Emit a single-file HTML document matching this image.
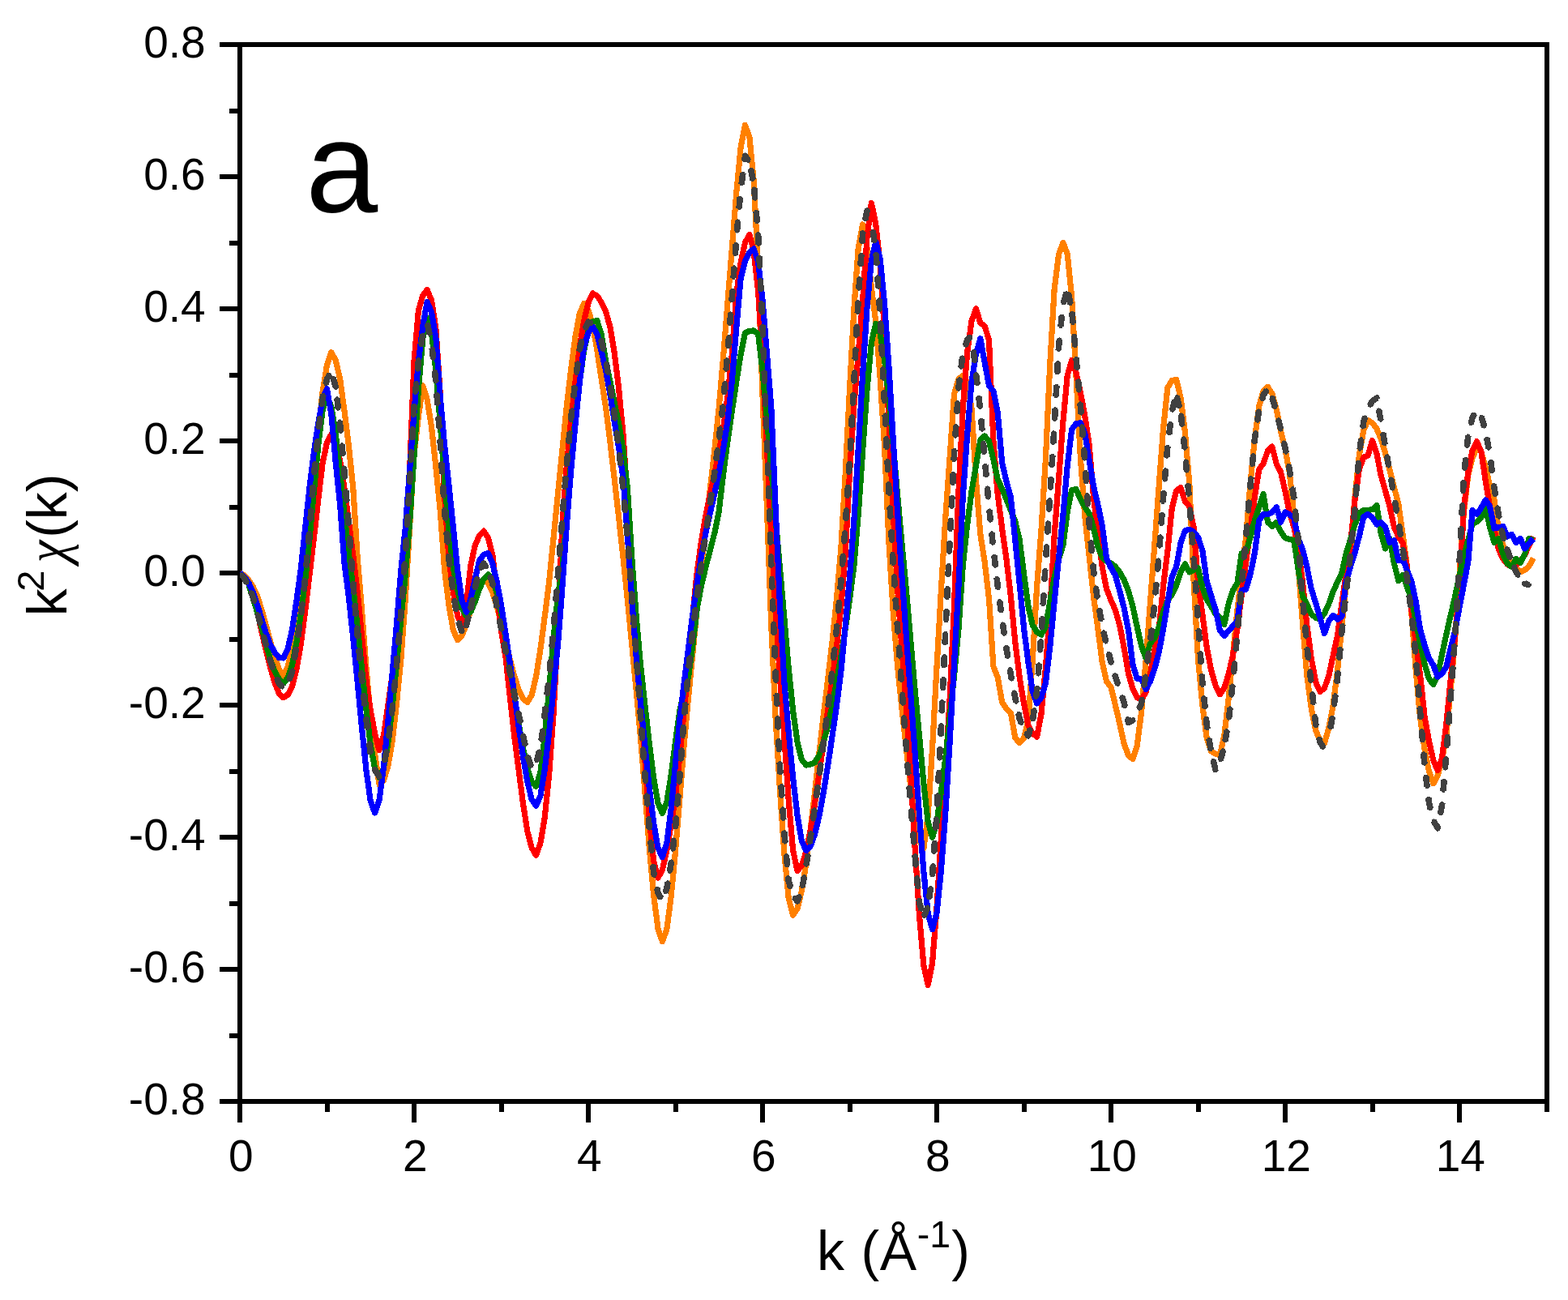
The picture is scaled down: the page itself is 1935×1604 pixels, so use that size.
<!DOCTYPE html>
<html lang="en">
<head>
<meta charset="utf-8">
<title>EXAFS k2-weighted chi(k)</title>
<style>
html,body{margin:0;padding:0;background:#fff;}
body{width:1935px;height:1604px;overflow:hidden;}
svg{display:block;}
text{font-family:"Liberation Sans",sans-serif;fill:#000;}
.tick{font-size:55px;}
.ttl{font-size:68px;}
.c{fill:none;stroke-linejoin:round;}
</style>
</head>
<body>
<svg width="1935" height="1604" viewBox="0 0 1935 1604" role="img" aria-label="k2-weighted EXAFS chi(k) spectra, panel a">
<rect x="0" y="0" width="1935" height="1604" fill="#fff"/>
<g id="axes" stroke="#000" stroke-width="6" fill="none" stroke-linecap="butt" shape-rendering="crispEdges">
<rect x="296.0" y="55.0" width="1612.5" height="1304.0"/>
<line x1="296.0" y1="1359.0" x2="296.0" y2="1385"/>
<line x1="403.5" y1="1359.0" x2="403.5" y2="1372"/>
<line x1="511.0" y1="1359.0" x2="511.0" y2="1385"/>
<line x1="618.5" y1="1359.0" x2="618.5" y2="1372"/>
<line x1="726.0" y1="1359.0" x2="726.0" y2="1385"/>
<line x1="833.5" y1="1359.0" x2="833.5" y2="1372"/>
<line x1="941.0" y1="1359.0" x2="941.0" y2="1385"/>
<line x1="1048.5" y1="1359.0" x2="1048.5" y2="1372"/>
<line x1="1156.0" y1="1359.0" x2="1156.0" y2="1385"/>
<line x1="1263.5" y1="1359.0" x2="1263.5" y2="1372"/>
<line x1="1371.0" y1="1359.0" x2="1371.0" y2="1385"/>
<line x1="1478.5" y1="1359.0" x2="1478.5" y2="1372"/>
<line x1="1586.0" y1="1359.0" x2="1586.0" y2="1385"/>
<line x1="1693.5" y1="1359.0" x2="1693.5" y2="1372"/>
<line x1="1801.0" y1="1359.0" x2="1801.0" y2="1385"/>
<line x1="1908.5" y1="1359.0" x2="1908.5" y2="1372"/>
<line x1="271" y1="1359.0" x2="296.0" y2="1359.0"/>
<line x1="283" y1="1277.5" x2="296.0" y2="1277.5"/>
<line x1="271" y1="1196.0" x2="296.0" y2="1196.0"/>
<line x1="283" y1="1114.5" x2="296.0" y2="1114.5"/>
<line x1="271" y1="1033.0" x2="296.0" y2="1033.0"/>
<line x1="283" y1="951.5" x2="296.0" y2="951.5"/>
<line x1="271" y1="870.0" x2="296.0" y2="870.0"/>
<line x1="283" y1="788.5" x2="296.0" y2="788.5"/>
<line x1="271" y1="707.0" x2="296.0" y2="707.0"/>
<line x1="283" y1="625.5" x2="296.0" y2="625.5"/>
<line x1="271" y1="544.0" x2="296.0" y2="544.0"/>
<line x1="283" y1="462.5" x2="296.0" y2="462.5"/>
<line x1="271" y1="381.0" x2="296.0" y2="381.0"/>
<line x1="283" y1="299.5" x2="296.0" y2="299.5"/>
<line x1="271" y1="218.0" x2="296.0" y2="218.0"/>
<line x1="283" y1="136.5" x2="296.0" y2="136.5"/>
<line x1="271" y1="55.0" x2="296.0" y2="55.0"/>
</g>
<defs><clipPath id="plotclip"><rect x="296" y="55" width="1612.5" height="1304"/></clipPath></defs>
<g id="curves" clip-path="url(#plotclip)" shape-rendering="crispEdges">
<path id="c-orange" class="c" d="M296.0 707.0L301.4 710.0L306.8 715.7L312.1 723.5L317.5 735.4L322.9 752.4L328.2 771.1L333.6 791.5L339.0 810.2L344.4 825.9L349.8 834.6L355.1 822.5L360.5 801.6L365.9 774.9L371.2 749.5L376.6 719.7L382.0 673.9L387.4 603.5L392.8 531.8L398.1 483.7L403.5 450.3L408.9 434.7L414.2 444.6L419.6 467.3L425.0 507.1L430.4 549.9L435.8 602.9L441.1 687.1L446.5 752.4L451.9 823.1L457.2 882.8L462.6 930.5L468.0 967.7L473.4 963.0L478.8 945.5L484.1 914.9L489.5 867.7L494.9 812.6L500.2 740.2L505.6 650.3L511.0 561.0L516.4 513.9L521.8 475.9L527.1 492.7L532.5 526.6L537.9 576.3L543.2 629.3L548.6 703.1L554.0 747.1L559.4 778.0L564.8 789.7L570.1 784.2L575.5 770.3L580.9 752.4L586.2 734.4L591.6 720.5L597.0 715.0L602.4 719.2L607.8 730.8L613.1 747.7L618.5 768.3L623.9 790.8L629.2 813.2L634.6 833.8L640.0 850.7L645.4 862.3L650.8 866.5L656.1 857.9L661.5 834.9L666.9 801.3L672.2 761.0L677.6 718.0L683.0 664.8L688.4 610.0L693.8 556.2L699.1 503.4L704.5 456.7L709.9 415.9L715.2 387.3L720.6 374.4L726.0 382.7L731.4 400.4L736.8 432.0L742.1 466.9L747.5 502.4L752.9 545.3L758.2 590.9L763.6 638.5L769.0 688.1L774.4 740.2L779.8 795.8L785.1 851.2L790.5 909.6L795.9 976.9L801.2 1044.6L806.6 1103.8L812.0 1145.8L817.4 1161.7L822.8 1146.7L828.1 1106.8L833.5 1050.2L838.9 984.9L844.2 918.7L849.6 859.8L855.0 804.9L860.4 749.0L865.8 696.2L871.1 648.1L876.5 602.0L881.9 554.5L887.2 502.9L892.6 440.3L898.0 372.6L903.4 305.4L908.8 237.5L914.1 181.9L919.5 154.4L924.9 169.0L930.2 223.6L935.6 329.8L941.0 487.1L946.4 625.8L951.8 772.0L957.1 885.9L962.5 975.3L967.9 1053.3L973.2 1108.4L978.6 1129.3L984.0 1121.2L989.4 1098.9L994.8 1065.6L1000.1 1024.2L1005.5 977.8L1010.9 929.6L1016.2 882.6L1021.6 838.7L1027.0 791.9L1032.4 739.6L1037.8 676.9L1043.1 586.0L1048.5 480.7L1053.9 380.8L1059.2 306.3L1064.6 277.0L1070.0 305.8L1075.4 355.0L1080.8 396.9L1086.1 465.8L1091.5 550.2L1096.9 668.5L1102.2 754.8L1107.6 822.2L1113.0 874.4L1118.4 923.7L1123.8 970.4L1129.1 1009.7L1134.5 1036.9L1139.9 1047.0L1145.2 1006.3L1150.6 922.7L1156.0 823.3L1161.4 728.4L1166.8 638.2L1172.1 564.6L1177.5 486.2L1182.9 468.0L1188.2 463.2L1193.6 471.3L1199.0 504.2L1204.4 591.4L1209.8 658.9L1215.1 692.9L1220.5 738.7L1225.9 822.3L1231.2 835.6L1236.6 866.0L1242.0 874.9L1247.4 879.7L1252.8 910.4L1258.1 916.6L1263.5 911.1L1268.9 888.5L1274.2 815.6L1279.6 724.3L1285.0 653.5L1290.4 566.4L1295.8 448.0L1301.1 357.5L1306.5 313.8L1311.9 299.4L1317.2 313.3L1322.6 366.3L1328.0 463.9L1333.4 565.1L1338.8 637.2L1344.1 685.8L1349.5 735.8L1354.9 776.0L1360.2 817.0L1365.6 841.0L1371.0 847.8L1376.4 870.0L1381.8 893.3L1387.1 917.4L1392.5 932.1L1397.9 936.5L1403.2 920.3L1408.6 878.2L1414.0 816.6L1419.4 744.3L1424.8 672.6L1430.1 600.9L1435.5 529.4L1440.9 478.3L1446.2 469.6L1451.6 468.2L1457.0 490.4L1462.4 533.5L1467.8 596.1L1473.1 717.3L1478.5 813.0L1483.9 870.6L1489.2 910.6L1494.6 926.9L1500.0 930.1L1505.4 931.9L1510.8 907.5L1516.1 862.3L1521.5 808.0L1526.9 753.4L1532.2 707.5L1537.6 663.0L1543.0 596.0L1548.4 540.9L1553.8 501.1L1559.1 482.1L1564.5 477.4L1569.9 485.9L1575.2 505.2L1580.6 532.3L1586.0 554.3L1591.4 583.6L1596.8 635.5L1602.1 697.2L1607.5 769.1L1612.9 834.1L1618.2 873.8L1623.6 900.9L1629.0 914.1L1634.4 916.9L1639.8 898.5L1645.1 870.7L1650.5 827.8L1655.9 773.3L1661.2 720.7L1666.6 678.8L1672.0 613.5L1677.4 561.1L1682.8 530.9L1688.1 518.5L1693.5 521.8L1698.9 529.0L1704.2 541.6L1709.6 559.2L1715.0 579.7L1720.4 601.3L1725.8 621.9L1731.1 659.3L1736.5 699.5L1741.9 756.6L1747.2 826.6L1752.6 885.6L1758.0 923.9L1763.4 951.4L1768.8 966.8L1774.1 957.2L1779.5 938.5L1784.9 906.3L1790.2 851.2L1795.6 788.6L1801.0 709.3L1806.4 632.1L1811.8 586.2L1817.1 565.3L1822.5 552.2L1827.9 557.7L1833.2 576.5L1838.6 599.1L1844.0 617.1L1849.4 653.8L1854.8 672.2L1860.1 686.7L1865.5 696.3L1870.9 701.4L1876.2 705.6L1881.6 703.4L1887.0 698.4L1892.4 688.6" stroke="#ff8000" stroke-width="7.2" stroke-linecap="butt"/>
<path id="c-red" class="c" d="M296.0 707.0L301.4 712.0L306.8 720.9L312.1 734.1L317.5 754.0L322.9 779.7L328.2 802.0L333.6 823.5L339.0 842.1L344.4 855.7L349.8 860.8L355.1 857.3L360.5 847.0L365.9 825.7L371.2 795.1L376.6 754.3L382.0 709.2L387.4 663.7L392.8 615.7L398.1 571.6L403.5 545.8L408.9 536.0L414.2 544.8L419.6 568.4L425.0 602.5L430.4 643.0L435.8 685.7L441.1 730.1L446.5 784.5L451.9 838.6L457.2 876.2L462.6 905.1L468.0 925.6L473.4 907.7L478.8 870.4L484.1 832.8L489.5 798.9L494.9 759.1L500.2 703.8L505.6 580.9L511.0 445.7L516.4 383.1L521.8 364.5L527.1 357.4L532.5 370.5L537.9 405.7L543.2 484.9L548.6 611.5L554.0 689.5L559.4 730.7L564.8 760.4L570.1 772.3L575.5 745.5L580.9 697.7L586.2 673.2L591.6 660.5L597.0 655.2L602.4 663.7L607.8 684.6L613.1 732.6L618.5 778.4L623.9 810.2L629.2 858.5L634.6 907.3L640.0 949.4L645.4 990.6L650.8 1025.6L656.1 1045.8L661.5 1055.3L666.9 1040.3L672.2 1009.1L677.6 955.9L683.0 881.3L688.4 779.6L693.8 648.6L699.1 577.5L704.5 520.1L709.9 472.1L715.2 429.0L720.6 396.2L726.0 373.6L731.4 361.9L736.8 364.9L742.1 372.9L747.5 384.2L752.9 403.5L758.2 435.1L763.6 479.2L769.0 536.2L774.4 617.8L779.8 706.2L785.1 790.7L790.5 866.3L795.9 938.4L801.2 1008.7L806.6 1062.0L812.0 1083.2L817.4 1073.4L822.8 1049.1L828.1 1018.2L833.5 982.2L838.9 932.8L844.2 877.7L849.6 820.4L855.0 757.0L860.4 704.0L865.8 665.7L871.1 635.0L876.5 608.9L881.9 584.3L887.2 558.2L892.6 527.6L898.0 489.3L903.4 436.1L908.8 362.3L914.1 324.0L919.5 299.3L924.9 289.6L930.2 310.0L935.6 358.9L941.0 446.8L946.4 551.1L951.8 660.5L957.1 754.0L962.5 835.7L967.9 909.7L973.2 987.1L978.6 1049.0L984.0 1074.4L989.4 1068.1L994.8 1050.7L1000.1 1024.5L1005.5 991.7L1010.9 954.6L1016.2 915.5L1021.6 876.6L1027.0 839.2L1032.4 798.4L1037.8 749.5L1043.1 685.5L1048.5 583.6L1053.9 500.2L1059.2 436.8L1064.6 370.5L1070.0 293.2L1075.4 250.4L1080.8 276.9L1086.1 325.0L1091.5 408.3L1096.9 518.6L1102.2 632.2L1107.6 725.7L1113.0 799.9L1118.4 870.6L1123.8 954.4L1129.1 1045.9L1134.5 1129.9L1139.9 1191.4L1145.2 1215.3L1150.6 1187.8L1156.0 1119.8L1161.4 1033.4L1166.8 950.2L1172.1 862.6L1177.5 747.4L1182.9 607.2L1188.2 504.8L1193.6 435.3L1199.0 396.2L1204.4 380.9L1209.8 398.4L1215.1 402.4L1220.5 419.3L1225.9 543.8L1231.2 610.1L1236.6 651.6L1242.0 689.8L1247.4 736.2L1252.8 792.3L1258.1 835.1L1263.5 867.6L1268.9 894.9L1274.2 905.0L1279.6 909.1L1285.0 880.7L1290.4 823.7L1295.8 752.6L1301.1 661.3L1306.5 591.0L1311.9 520.3L1317.2 463.3L1322.6 444.5L1328.0 460.0L1333.4 484.1L1338.8 513.3L1344.1 548.2L1349.5 613.3L1354.9 658.7L1360.2 699.4L1365.6 726.8L1371.0 740.6L1376.4 752.7L1381.8 771.9L1387.1 799.1L1392.5 830.9L1397.9 850.0L1403.2 860.5L1408.6 863.0L1414.0 854.6L1419.4 832.3L1424.8 802.0L1430.1 777.1L1435.5 723.0L1440.9 679.9L1446.2 627.4L1451.6 605.6L1457.0 601.6L1462.4 618.8L1467.8 624.9L1473.1 650.8L1478.5 717.6L1483.9 758.5L1489.2 798.5L1494.6 826.8L1500.0 845.6L1505.4 856.7L1510.8 848.9L1516.1 831.8L1521.5 808.6L1526.9 775.5L1532.2 734.2L1537.6 693.9L1543.0 653.6L1548.4 613.1L1553.8 579.0L1559.1 571.9L1564.5 556.3L1569.9 551.0L1575.2 572.3L1580.6 582.6L1586.0 606.2L1591.4 632.6L1596.8 650.4L1602.1 676.9L1607.5 717.8L1612.9 772.0L1618.2 812.0L1623.6 841.4L1629.0 853.4L1634.4 849.0L1639.8 834.0L1645.1 809.1L1650.5 784.4L1655.9 744.5L1661.2 707.7L1666.6 670.8L1672.0 617.1L1677.4 578.5L1682.8 564.2L1688.1 562.2L1693.5 543.5L1698.9 559.5L1704.2 586.7L1709.6 605.6L1715.0 625.1L1720.4 650.2L1725.8 662.3L1731.1 670.4L1736.5 699.8L1741.9 752.7L1747.2 792.7L1752.6 833.0L1758.0 883.7L1763.4 914.1L1768.8 938.0L1774.1 950.6L1779.5 935.4L1784.9 892.8L1790.2 838.4L1795.6 784.8L1801.0 728.6L1806.4 626.7L1811.8 583.0L1817.1 555.6L1822.5 544.7L1827.9 557.5L1833.2 593.0L1838.6 625.7L1844.0 653.2L1849.4 678.0L1854.8 689.5L1860.1 696.1L1865.5 699.3L1870.9 697.2L1876.2 692.6L1881.6 684.6L1887.0 673.1L1892.4 662.4" stroke="#ff0000" stroke-width="7.2" stroke-linecap="butt"/>
<path id="c-green" class="c" d="M296.0 707.0L301.4 712.0L306.8 720.9L312.1 737.7L317.5 755.3L322.9 774.2L328.2 794.2L333.6 814.0L339.0 828.3L344.4 838.0L349.8 843.3L355.1 836.3L360.5 821.0L365.9 792.3L371.2 757.9L376.6 717.2L382.0 664.6L387.4 606.0L392.8 549.1L398.1 506.0L403.5 489.0L408.9 501.8L414.2 535.2L419.6 581.6L425.0 633.4L430.4 682.9L435.8 725.2L441.1 773.1L446.5 825.0L451.9 875.2L457.2 918.2L462.6 948.1L468.0 959.3L473.4 947.9L478.8 917.2L484.1 872.7L489.5 819.6L494.9 763.4L500.2 709.4L505.6 644.9L511.0 562.3L516.4 480.2L521.8 417.2L527.1 392.0L532.5 410.3L537.9 457.5L543.2 521.9L548.6 591.7L554.0 655.2L559.4 700.8L564.8 728.1L570.1 750.7L575.5 760.3L580.9 754.9L586.2 742.2L591.6 726.9L597.0 714.2L602.4 708.8L607.8 714.9L613.1 731.6L618.5 756.6L623.9 787.4L629.2 821.9L634.6 857.4L640.0 891.9L645.4 922.7L650.8 947.7L656.1 964.4L661.5 970.5L666.9 953.3L672.2 909.4L677.6 850.6L683.0 788.6L688.4 735.0L693.8 702.3L699.1 640.9L704.5 571.8L709.9 518.5L715.2 472.1L720.6 433.1L726.0 408.2L731.4 397.0L736.8 395.6L742.1 412.5L747.5 445.2L752.9 470.7L758.2 496.6L763.6 522.8L769.0 555.5L774.4 603.0L779.8 689.0L785.1 759.4L790.5 820.6L795.9 869.8L801.2 916.4L806.6 959.4L812.0 991.1L817.4 1003.4L822.8 989.8L828.1 956.7L833.5 915.2L838.9 876.6L844.2 851.7L849.6 835.0L855.0 794.7L860.4 749.6L865.8 721.3L871.1 699.0L876.5 678.2L881.9 657.2L887.2 630.8L892.6 584.7L898.0 543.9L903.4 506.6L908.8 470.9L914.1 437.1L919.5 411.0L924.9 408.3L930.2 408.0L935.6 411.8L941.0 457.4L946.4 516.0L951.8 577.3L957.1 639.7L962.5 701.4L967.9 763.5L973.2 824.5L978.6 876.6L984.0 915.6L989.4 937.3L994.8 944.0L1000.1 943.1L1005.5 940.7L1010.9 931.9L1016.2 915.7L1021.6 895.9L1027.0 871.1L1032.4 841.0L1037.8 809.9L1043.1 776.6L1048.5 739.9L1053.9 697.7L1059.2 634.6L1064.6 556.6L1070.0 480.3L1075.4 422.3L1080.8 399.3L1086.1 411.3L1091.5 443.8L1096.9 491.4L1102.2 548.8L1107.6 610.6L1113.0 671.4L1118.4 727.7L1123.8 790.5L1129.1 851.3L1134.5 907.9L1139.9 967.2L1145.2 1014.2L1150.6 1033.3L1156.0 1015.0L1161.4 976.2L1166.8 935.1L1172.1 885.1L1177.5 834.2L1182.9 776.7L1188.2 698.4L1193.6 647.8L1199.0 606.5L1204.4 574.6L1209.8 542.9L1215.1 538.0L1220.5 544.3L1225.9 567.1L1231.2 591.3L1236.6 603.1L1242.0 616.1L1247.4 629.9L1252.8 643.4L1258.1 665.7L1263.5 707.9L1268.9 747.8L1274.2 771.4L1279.6 779.7L1285.0 783.2L1290.4 773.1L1295.8 742.2L1301.1 712.4L1306.5 690.2L1311.9 672.6L1317.2 631.7L1322.6 604.6L1328.0 603.6L1333.4 616.2L1338.8 625.7L1344.1 633.4L1349.5 651.9L1354.9 674.8L1360.2 687.6L1365.6 692.5L1371.0 695.0L1376.4 699.1L1381.8 706.0L1387.1 715.3L1392.5 729.1L1397.9 748.3L1403.2 773.2L1408.6 797.2L1414.0 811.8L1419.4 794.0L1424.8 787.3L1430.1 773.9L1435.5 755.4L1440.9 740.9L1446.2 733.7L1451.6 722.4L1457.0 706.1L1462.4 695.9L1467.8 705.9L1473.1 703.4L1478.5 700.9L1483.9 725.2L1489.2 740.0L1494.6 748.1L1500.0 757.7L1505.4 761.7L1510.8 770.7L1516.1 745.0L1521.5 728.5L1526.9 719.5L1532.2 682.8L1537.6 680.7L1543.0 663.2L1548.4 641.9L1553.8 625.8L1559.1 609.6L1564.5 644.5L1569.9 649.5L1575.2 644.5L1580.6 656.1L1586.0 663.7L1591.4 665.4L1596.8 666.7L1602.1 702.2L1607.5 735.5L1612.9 746.0L1618.2 757.6L1623.6 762.3L1629.0 764.2L1634.4 756.9L1639.8 745.1L1645.1 730.1L1650.5 718.2L1655.9 706.9L1661.2 682.7L1666.6 665.4L1672.0 647.3L1677.4 633.1L1682.8 629.5L1688.1 629.5L1693.5 628.6L1698.9 623.3L1704.2 657.9L1709.6 676.9L1715.0 664.4L1720.4 695.0L1725.8 716.8L1731.1 709.3L1736.5 724.4L1741.9 739.7L1747.2 766.7L1752.6 793.7L1758.0 819.2L1763.4 837.3L1768.8 844.6L1774.1 833.8L1779.5 807.5L1784.9 782.3L1790.2 759.1L1795.6 736.0L1801.0 710.3L1806.4 686.4L1811.8 666.2L1817.1 646.1L1822.5 643.9L1827.9 638.6L1833.2 627.0L1838.6 650.4L1844.0 669.4L1849.4 664.4L1854.8 684.0L1860.1 695.2L1865.5 699.3L1870.9 689.4L1876.2 694.3L1881.6 684.0L1887.0 664.4L1892.4 666.6" stroke="#008000" stroke-width="7.2" stroke-linecap="butt"/>
<path id="c-blue" class="c" d="M296.0 707.0L301.4 711.5L306.8 718.9L312.1 730.6L317.5 746.0L322.9 763.9L328.2 781.1L333.6 795.1L339.0 805.0L344.4 811.5L349.8 812.0L355.1 800.5L360.5 776.9L365.9 741.6L371.2 702.7L376.6 652.0L382.0 601.6L387.4 558.0L392.8 521.8L398.1 492.2L403.5 479.5L408.9 511.7L414.2 570.3L419.6 622.2L425.0 694.8L430.4 737.3L435.8 787.5L441.1 840.7L446.5 897.5L451.9 949.8L457.2 988.1L462.6 1003.0L468.0 987.3L473.4 946.7L478.8 891.3L484.1 830.9L489.5 770.2L494.9 703.2L500.2 652.1L505.6 580.0L511.0 508.4L516.4 445.7L521.8 402.2L527.1 372.4L532.5 385.1L537.9 416.9L543.2 489.3L548.6 549.2L554.0 599.5L559.4 651.1L564.8 704.9L570.1 741.5L575.5 755.3L580.9 738.2L586.2 714.5L591.6 691.7L597.0 684.5L602.4 682.6L607.8 695.3L613.1 717.7L618.5 746.1L623.9 781.7L629.2 817.2L634.6 855.6L640.0 895.5L645.4 933.0L650.8 964.5L656.1 986.1L661.5 994.2L666.9 982.1L672.2 950.0L677.6 904.1L683.0 850.8L688.4 796.2L693.8 726.0L699.1 651.1L704.5 582.0L709.9 525.0L715.2 472.6L720.6 428.3L726.0 410.6L731.4 403.0L736.8 412.2L742.1 433.2L747.5 456.7L752.9 486.2L758.2 520.0L763.6 552.2L769.0 590.4L774.4 661.5L779.8 740.3L785.1 810.2L790.5 867.6L795.9 920.0L801.2 971.3L806.6 1015.3L812.0 1046.1L817.4 1057.7L822.8 1040.7L828.1 998.3L833.5 942.9L838.9 887.4L844.2 842.2L849.6 798.9L855.0 756.6L860.4 717.7L865.8 684.5L871.1 656.8L876.5 632.2L881.9 608.5L887.2 583.2L892.6 554.1L898.0 518.8L903.4 469.0L908.8 404.2L914.1 343.9L919.5 322.3L924.9 311.4L930.2 307.0L935.6 323.2L941.0 369.7L946.4 435.9L951.8 502.9L957.1 626.4L962.5 747.0L967.9 842.0L973.2 903.7L978.6 959.4L984.0 1005.9L989.4 1037.7L994.8 1049.5L1000.1 1044.2L1005.5 1029.4L1010.9 1006.8L1016.2 978.1L1021.6 944.8L1027.0 908.6L1032.4 871.3L1037.8 829.4L1043.1 773.7L1048.5 712.6L1053.9 641.8L1059.2 554.0L1064.6 462.2L1070.0 380.1L1075.4 321.0L1080.8 298.3L1086.1 319.2L1091.5 374.3L1096.9 452.3L1102.2 541.9L1107.6 631.9L1113.0 711.0L1118.4 785.3L1123.8 856.9L1129.1 928.5L1134.5 1005.6L1139.9 1075.8L1145.2 1127.0L1150.6 1146.8L1156.0 1126.3L1161.4 1074.0L1166.8 1003.3L1172.1 915.7L1177.5 819.0L1182.9 724.1L1188.2 614.3L1193.6 537.1L1199.0 471.1L1204.4 437.1L1209.8 417.6L1215.1 447.1L1220.5 475.9L1225.9 482.6L1231.2 509.0L1236.6 570.6L1242.0 594.0L1247.4 613.7L1252.8 666.5L1258.1 719.9L1263.5 774.6L1268.9 817.0L1274.2 853.0L1279.6 867.9L1285.0 860.7L1290.4 842.7L1295.8 797.8L1301.1 743.0L1306.5 689.3L1311.9 636.0L1317.2 575.0L1322.6 529.8L1328.0 522.7L1333.4 521.8L1338.8 534.5L1344.1 567.6L1349.5 600.1L1354.9 622.9L1360.2 648.3L1365.6 689.5L1371.0 700.5L1376.4 709.9L1381.8 729.5L1387.1 749.9L1392.5 777.4L1397.9 819.9L1403.2 837.3L1408.6 837.9L1414.0 850.5L1419.4 840.7L1424.8 825.3L1430.1 805.1L1435.5 776.7L1440.9 743.7L1446.2 711.8L1451.6 699.5L1457.0 670.3L1462.4 654.5L1467.8 653.5L1473.1 656.2L1478.5 662.8L1483.9 679.2L1489.2 716.9L1494.6 735.0L1500.0 752.1L1505.4 777.7L1510.8 784.4L1516.1 778.6L1521.5 772.2L1526.9 766.2L1532.2 728.5L1537.6 727.1L1543.0 708.4L1548.4 682.5L1553.8 642.1L1559.1 634.6L1564.5 634.5L1569.9 632.2L1575.2 625.8L1580.6 644.5L1586.0 632.0L1591.4 634.8L1596.8 639.4L1602.1 664.4L1607.5 678.1L1612.9 699.8L1618.2 726.5L1623.6 743.7L1629.0 762.2L1634.4 781.6L1639.8 766.2L1645.1 759.2L1650.5 764.2L1655.9 760.8L1661.2 717.7L1666.6 698.9L1672.0 681.9L1677.4 661.4L1682.8 637.6L1688.1 634.5L1693.5 638.5L1698.9 647.0L1704.2 644.5L1709.6 649.9L1715.0 669.4L1720.4 666.9L1725.8 691.8L1731.1 689.4L1736.5 704.2L1741.9 717.2L1747.2 742.2L1752.6 776.6L1758.0 795.6L1763.4 812.1L1768.8 820.7L1774.1 835.2L1779.5 831.4L1784.9 822.3L1790.2 799.6L1795.6 778.5L1801.0 749.6L1806.4 721.6L1811.8 692.9L1817.1 629.5L1822.5 634.5L1827.9 626.6L1833.2 617.0L1838.6 625.0L1844.0 651.9L1849.4 650.7L1854.8 649.5L1860.1 661.9L1865.5 659.4L1870.9 669.4L1876.2 664.4L1881.6 676.9L1887.0 670.2L1892.4 664.6" stroke="#0000ff" stroke-width="7.2" stroke-linecap="butt"/>
<path id="c-gray" class="c" d="M297.3 708.5L301.4 713.1L304.8 719.6M309.6 730.4L312.1 736.6L314.0 743.2M317.9 757.2L321.4 770.3M325.3 784.5L328.2 795.4L328.8 797.5M332.6 811.8L333.6 815.5L336.9 824.6M341.7 837.0L344.4 843.5L348.9 848.1M356.8 839.1L360.5 829.5L361.0 826.3M363.3 813.0L365.6 799.7M367.8 785.2L369.7 771.8M371.7 757.4L373.2 743.9M375.0 728.3L376.5 714.8M377.9 699.2L379.1 685.7M380.4 670.2L381.6 656.8M382.9 641.7L384.0 628.3M385.2 613.1L386.3 599.6M387.6 584.4L388.9 570.9M390.4 556.3L391.7 542.9M393.2 528.3L395.0 514.9M396.9 500.2L398.1 490.4L399.0 486.9M402.0 474.2L403.5 467.8L406.8 461.8M411.1 465.8L414.2 477.3L414.4 478.9M415.9 491.4L417.5 504.8M419.2 519.5L419.6 523.0L420.5 533.0M421.9 548.2L423.1 561.6M424.5 576.5L425.0 582.5L425.6 590.0M426.8 605.2L427.9 618.7M429.2 633.9L430.3 647.4M431.4 662.6L432.5 676.1M433.6 690.7L434.6 704.2M435.7 718.5L435.8 718.9L436.8 731.9M438.0 745.9L439.1 759.4M440.3 773.4L441.1 782.9L441.5 786.8M442.9 801.1L444.2 814.5M445.6 828.9L446.5 837.8L447.0 842.3M448.6 856.9L450.0 870.3M451.7 885.6L451.9 887.2L453.4 899.0M455.6 916.3L457.2 929.3L457.3 929.6M462.1 947.8L462.6 949.9L468.0 958.0L468.6 956.5M474.6 939.4L477.2 926.1M479.8 909.9L481.4 896.5M483.3 881.8L484.1 874.8L484.8 868.4M486.3 853.2L487.6 839.8M489.1 823.9L489.5 820.3L490.3 810.5M491.7 794.6L492.8 781.2M494.1 765.9L494.9 756.2L495.2 752.5M496.2 737.9L497.2 724.4M498.4 707.9L499.4 694.4M500.5 678.6L501.4 665.1M502.3 649.2L503.1 635.8M503.9 623.0L504.7 609.6M505.5 596.2L505.6 594.4L506.3 582.8M507.1 569.5L507.8 556.0M508.7 541.4L509.4 527.9M510.3 513.3L511.0 500.7L511.1 499.9M512.5 485.0L513.9 471.5M515.3 456.5L516.4 445.7L516.8 443.1M519.7 426.0L521.8 413.8L522.1 412.7M527.5 399.6L530.3 412.8M533.2 429.4L534.7 442.8M536.4 457.8L537.9 470.9L537.9 471.2M539.0 485.9L539.9 499.3M541.0 514.5L542.0 528.0M543.0 542.6L543.2 545.3L543.9 556.0M544.9 570.9L545.7 584.4M546.7 599.6L547.5 613.1M548.5 627.7L548.6 630.3L549.6 641.1M551.0 656.5L552.2 670.0M553.5 684.6L554.0 690.4L555.0 698.1M556.9 712.8L558.6 726.1M560.7 740.0L563.0 753.3M566.1 767.3L570.1 780.2M574.5 773.0L575.5 771.5L578.4 760.2M580.5 751.9L580.9 750.4L583.4 738.7M586.0 726.2L586.2 725.2L589.3 713.1M593.1 701.8L597.0 695.3L600.4 700.2M604.8 710.7L607.8 719.7L608.5 723.6M610.9 736.4L613.1 748.2L613.4 749.6M616.3 764.4L618.5 775.3L619.0 777.6M622.1 793.1L623.9 802.2L624.7 806.3M627.9 822.1L629.2 828.7L630.6 835.3M633.7 850.5L634.6 855.0L636.4 863.7M639.5 878.5L640.0 880.9L642.3 891.7M645.3 906.3L645.4 906.8L648.1 919.5M651.0 933.0L655.4 945.7M662.2 939.4L665.7 926.4M668.0 913.7L669.8 900.3M671.6 886.2L672.2 881.4L673.2 872.8M675.0 857.2L676.6 843.8M678.3 827.9L679.5 814.5M681.0 798.7L682.3 785.2M683.6 770.0L684.7 756.5M685.9 741.6L687.0 728.2M688.1 713.3L688.4 710.4L689.2 699.8M690.3 685.5L691.4 672.0M692.5 657.7L693.6 644.2M694.7 629.9L695.8 616.4M697.0 602.1L698.1 588.6M699.3 574.3L700.5 560.8M701.8 546.5L703.0 533.1M704.4 518.7L704.5 517.2L705.9 505.3M707.7 489.9L709.3 476.5M711.3 460.8L713.1 447.5M715.1 432.9L715.2 431.6L718.0 419.7M722.0 405.4L726.0 397.3L729.9 399.5M741.4 418.8L742.1 420.5L744.8 431.8M748.2 447.5L750.5 460.8M753.1 476.7L755.1 490.0M757.3 504.4L758.2 510.8L759.1 517.8M761.0 532.2L762.7 545.6M764.3 559.8L765.8 573.3M767.4 588.9L768.9 602.3M770.3 618.0L771.5 631.4M772.9 647.0L774.1 660.5M775.3 675.3L776.3 688.7M777.4 702.7L778.5 716.2M779.6 731.0L779.8 732.5L780.6 744.4M781.7 760.1L782.7 773.5M783.8 789.2L784.8 802.7M785.9 818.3L786.8 831.7M787.9 846.6L788.8 860.0M789.9 875.4L790.5 883.4L790.9 888.9M791.7 899.2L792.7 912.7M793.4 923.1L794.4 936.5M795.6 951.8L795.9 955.7L796.7 965.2M797.9 980.4L799.0 993.9M800.3 1009.1L801.2 1021.3L801.4 1022.6M802.9 1037.8L804.2 1051.2M805.8 1067.7L806.6 1076.4L807.6 1081.1M810.8 1095.8L812.0 1101.4L815.7 1108.3M821.0 1101.3L822.8 1096.4L824.2 1088.2M826.4 1075.7L828.1 1065.6L828.5 1062.4M830.2 1048.8L831.8 1035.4M833.5 1021.3L834.7 1007.9M835.8 993.9L837.0 980.4M838.2 966.0L838.9 957.7L839.3 952.6M840.4 937.8L841.4 924.3M842.5 909.2L843.5 895.7M844.7 881.0L845.9 867.5M847.3 852.4L848.5 839.0M850.0 823.4L851.4 810.0M853.2 793.5L854.7 780.1M856.6 764.4L858.3 751.0M860.2 736.1L860.4 734.5L862.0 722.8M864.0 707.9L865.8 695.1L865.8 694.5M868.0 679.6L869.9 666.2M872.1 650.4L874.1 637.1M876.2 622.1L876.5 620.1L878.1 608.8M880.2 593.9L881.9 582.0L882.1 580.5M883.8 567.3L885.6 554.0M887.3 540.8L888.9 527.4M890.5 513.7L892.1 500.3M893.5 485.3L894.7 471.8M896.1 456.8L897.2 443.3M898.5 428.3L899.6 414.9M900.7 399.8L901.8 386.4M903.0 371.4L903.4 366.2L904.0 357.9M905.1 342.9L906.1 329.4M907.3 314.4L908.3 300.9M909.5 285.7L910.7 272.3M912.1 257.0L913.3 243.6M915.1 227.2L916.8 213.8M918.8 198.1L919.5 192.3L923.9 198.7M926.6 208.7L929.2 222.0M930.7 232.4L931.8 245.8M933.1 260.7L934.3 274.1M935.6 288.3L935.6 289.0L936.2 301.7M937.0 316.5L937.6 330.0M938.4 344.9L939.0 358.4M939.7 373.2L940.4 386.7M941.1 401.6L941.6 415.1M942.1 430.0L942.6 443.5M943.2 458.3L943.7 471.8M944.2 486.7L944.7 500.2M945.2 515.1L945.7 528.6M946.3 544.0L946.4 545.9L946.8 557.4M947.3 572.2L947.8 585.7M948.3 600.9L948.8 614.4M949.3 629.2L949.8 642.6M950.3 657.4L950.8 670.9M951.3 685.2L951.8 697.5L951.8 698.7M952.3 712.7L952.9 726.2M953.4 740.1L954.0 753.6M954.5 768.4L955.1 781.9M955.7 797.5L956.2 810.9M956.9 827.4L957.1 833.8L957.5 840.9M958.2 856.6L958.9 870.1M959.6 885.2L960.2 898.7M960.9 913.0L961.5 926.4M962.2 941.0L962.5 946.4L963.0 954.4M964.0 969.2L964.9 982.7M965.9 997.4L966.8 1010.9M967.8 1026.1L967.9 1027.9L968.9 1039.6M970.3 1054.9L971.5 1068.3M972.8 1082.2L973.2 1087.0L975.7 1095.3M980.1 1107.1L984.0 1111.8L986.7 1104.9M990.1 1094.4L992.6 1081.1M995.0 1067.8L997.0 1054.5M999.1 1040.4L1000.1 1033.4L1001.1 1027.0M1003.3 1011.6L1005.2 998.3M1007.3 983.4L1009.2 970.0M1011.2 955.6L1012.9 942.2M1014.9 927.3L1016.2 917.2L1016.7 913.9M1018.4 899.5L1020.1 886.1M1021.9 871.3L1023.5 857.9M1025.2 842.8L1026.8 829.4M1028.5 813.3L1029.9 799.9M1031.5 784.3L1032.4 776.1L1032.9 770.8M1034.3 755.2L1035.6 741.8M1037.0 727.0L1037.8 718.4L1038.1 713.5M1039.4 697.9L1040.5 684.4M1041.6 669.7L1042.7 656.2M1043.7 641.4L1044.6 627.9M1045.6 613.1L1046.5 599.6M1047.5 584.0L1048.4 570.6M1049.3 555.0L1050.0 541.5M1050.8 526.4L1051.5 513.0M1052.3 499.2L1053.0 485.7M1053.7 471.7L1053.9 469.3L1054.5 458.2M1055.2 443.6L1055.9 430.1M1056.7 414.9L1057.4 401.5M1058.3 385.7L1059.0 372.2M1059.9 356.7L1060.9 343.2M1061.9 327.4L1062.9 313.9M1063.9 299.5L1064.6 288.3L1065.1 286.0M1067.8 271.5L1070.0 260.2L1070.8 262.0M1077.2 284.8L1079.2 298.2M1081.1 313.0L1082.0 326.4M1082.9 341.3L1083.8 354.8M1084.8 369.4L1085.7 382.8M1086.6 397.4L1087.2 410.9M1087.9 425.5L1088.6 439.0M1089.4 454.2L1090.0 467.6M1090.8 482.7L1091.5 496.2M1092.2 511.5L1092.9 525.0M1093.6 539.8L1094.3 553.3M1095.1 568.1L1095.7 581.5M1096.5 596.3L1096.9 604.1L1097.2 609.8M1098.1 625.4L1098.9 638.9M1099.9 654.5L1100.6 668.0M1101.5 682.8L1102.2 695.0L1102.3 696.2M1103.3 710.2L1104.2 723.7M1105.1 738.5L1106.0 751.9M1107.1 767.6L1107.6 775.6L1108.0 781.0M1109.2 797.5L1110.2 810.9M1111.3 826.6L1112.2 840.0M1113.4 855.4L1114.4 868.9M1115.5 884.0L1116.5 897.4M1117.7 913.0L1118.4 922.6L1118.7 926.4M1119.9 941.8L1120.9 955.3M1122.1 970.5L1123.1 983.9M1124.4 999.1L1125.5 1012.6M1126.7 1027.4L1127.9 1040.8M1129.1 1055.2L1129.1 1056.1L1130.3 1068.7M1131.5 1081.9L1132.8 1095.3M1134.1 1109.5L1134.5 1113.5L1137.2 1122.6M1140.1 1131.2L1145.0 1118.6M1146.6 1108.4L1148.5 1095.0M1150.5 1080.3L1150.6 1079.6L1151.5 1066.9M1152.6 1052.1L1153.5 1038.6M1154.7 1023.0L1155.6 1009.5M1156.5 993.9L1157.2 980.4M1157.9 965.2L1158.6 951.7M1159.4 936.6L1160.0 923.1M1160.8 907.5L1161.4 896.2L1161.5 894.0M1162.2 878.6L1162.8 865.1M1163.5 850.5L1164.1 837.0M1164.8 822.5L1165.4 809.0M1166.1 794.4L1166.7 780.9M1167.4 766.3L1168.1 752.8M1168.7 738.3L1169.4 724.8M1170.1 710.2L1170.7 696.7M1171.4 682.1L1172.1 668.6M1172.8 654.0L1173.5 640.6M1174.2 626.0L1174.9 612.5M1175.7 597.3L1176.3 583.8M1177.1 568.0L1177.5 561.0L1177.9 554.5M1178.9 538.7L1179.8 525.3M1180.9 509.4L1181.7 496.0M1182.7 480.7L1182.9 478.4L1184.3 467.3M1186.0 453.9L1187.6 440.5M1191.2 426.6L1193.6 419.3L1197.6 415.1M1201.2 432.9L1202.8 446.3M1204.5 461.1L1206.1 474.5M1207.8 489.5L1209.4 502.9M1210.8 517.5L1212.0 530.9M1213.4 545.8L1214.6 559.2M1215.9 573.8L1217.1 587.3M1218.4 601.3L1219.6 614.7M1221.0 629.4L1222.4 642.8M1223.9 657.3L1225.2 670.7M1226.9 685.5L1228.4 698.9M1230.1 712.9L1231.2 723.2L1231.7 726.3M1233.6 741.1L1235.4 754.4M1237.4 769.3L1239.4 782.7M1241.6 797.7L1242.0 800.4L1243.8 811.0M1246.2 825.3L1247.4 832.5L1248.5 838.5M1251.4 853.5L1252.8 860.7L1254.0 866.8M1256.8 880.0L1258.1 886.3L1260.6 892.9M1266.2 904.3L1268.9 907.8L1271.5 899.2M1274.5 888.5L1276.4 875.1M1278.4 860.9L1279.6 852.7L1280.0 847.5M1281.2 832.7L1282.2 819.2M1283.4 803.6L1284.4 790.2M1285.4 775.4L1286.2 761.9M1287.2 746.3L1288.0 732.8M1289.0 716.3L1289.8 702.9M1290.8 686.4L1291.7 672.9M1292.7 657.8L1293.6 644.3M1294.5 629.8L1295.4 616.3M1296.3 603.0L1297.1 589.5M1298.0 575.0L1298.9 561.5M1299.8 546.8L1300.6 533.3M1301.5 517.8L1302.3 504.4M1303.1 489.2L1303.9 475.7M1304.7 460.5L1305.4 447.0M1306.3 431.8L1306.5 427.7L1307.5 418.4M1309.0 403.1L1310.4 389.7M1312.3 374.4L1315.9 361.4M1318.4 362.0L1321.0 375.2M1322.9 385.7L1324.1 399.1M1325.4 413.7L1326.7 427.2M1328.0 441.8L1329.2 455.2M1330.5 469.2L1331.7 482.6M1333.0 497.2L1333.4 501.2L1334.1 510.6M1335.3 525.2L1336.3 538.7M1337.5 553.3L1338.5 566.7M1339.6 581.9L1340.6 595.4M1341.6 610.3L1342.6 623.7M1343.7 639.2L1344.1 645.8L1344.8 652.6M1346.2 668.0L1347.4 681.5M1348.8 696.3L1349.5 703.7L1350.3 709.7M1352.4 724.5L1354.2 737.9M1356.6 751.9L1359.0 765.2M1361.9 779.3L1364.8 792.5M1368.1 805.6L1371.0 816.6L1371.6 818.7M1375.6 832.3L1376.4 834.9L1379.9 845.1M1384.6 859.3L1387.1 867.1L1388.3 872.2M1391.3 886.2L1392.5 891.6L1397.9 888.7L1398.9 887.2M1405.7 874.6L1408.6 867.7L1409.5 861.8M1411.8 846.8L1413.8 833.5M1415.9 817.7L1417.8 804.3M1419.7 789.5L1421.2 776.1M1422.9 761.2L1424.5 747.8M1425.9 732.9L1427.1 719.5M1428.5 703.9L1429.7 690.4M1431.0 674.8L1432.0 661.3M1433.0 647.2L1434.0 633.7M1435.1 620.1L1435.5 614.4L1436.1 606.7M1437.3 592.6L1438.5 579.2M1439.7 563.9L1440.9 550.5M1442.8 535.3L1444.5 521.9M1446.5 506.7L1449.9 493.7M1452.2 489.2L1455.5 502.3M1457.4 511.6L1458.8 525.0M1460.5 540.2L1462.0 553.7M1463.3 568.3L1464.5 581.7M1465.9 597.6L1467.1 611.0M1468.4 627.5L1469.5 640.9M1470.8 658.0L1471.9 671.5M1473.1 687.9L1474.1 701.4M1475.2 717.8L1476.1 731.3M1477.2 747.7L1478.1 761.2M1479.2 776.8L1480.2 790.3M1481.2 805.1L1482.2 818.6M1483.2 832.6L1483.9 842.6L1484.2 846.0M1485.7 860.0L1487.1 873.4M1488.4 885.8L1489.2 894.1L1490.0 899.2M1492.0 911.7L1494.1 925.1M1497.0 937.8L1500.0 949.4L1500.9 948.0M1506.1 938.3L1509.5 925.3M1511.9 914.4L1514.2 901.1M1516.5 886.7L1518.0 873.3M1519.5 858.8L1521.0 845.4M1522.5 830.6L1523.7 817.1M1525.1 802.3L1526.3 788.8M1527.7 773.2L1528.9 759.8M1530.3 745.0L1531.5 731.5M1532.8 716.9L1534.0 703.5M1535.2 689.2L1536.4 675.8M1537.8 660.7L1538.9 647.3M1540.2 631.7L1541.3 618.2M1542.7 602.6L1543.0 598.6L1543.9 589.1M1545.3 574.3L1546.6 560.9M1547.9 546.4L1548.4 541.8L1549.7 533.0M1551.7 519.8L1553.6 506.5M1557.4 493.2L1559.1 487.4L1563.4 481.4M1569.6 490.0L1569.9 490.6L1573.6 502.9M1577.5 517.3L1580.6 530.1L1580.7 530.4M1584.2 545.5L1586.0 553.1L1587.1 558.7M1590.2 573.8L1591.4 579.9L1592.5 587.1M1594.8 602.0L1596.8 614.3L1596.9 615.4M1598.3 629.5L1599.8 642.9M1601.3 657.7L1602.1 665.4L1602.5 671.1M1603.6 685.9L1604.6 699.4M1605.7 715.0L1606.7 728.5M1608.0 744.1L1609.2 757.6M1610.5 772.4L1611.8 785.9M1613.1 799.9L1614.6 813.3M1616.3 827.5L1617.9 840.9M1619.5 855.1L1620.9 868.5M1622.5 882.9L1623.6 892.8L1624.4 896.2M1627.8 910.6L1629.0 915.5L1633.3 922.7M1641.8 898.2L1644.3 884.9M1646.3 870.5L1648.0 857.1M1649.8 842.2L1650.5 836.3L1651.2 828.8M1652.7 813.1L1654.0 799.7M1655.4 784.0L1655.9 779.5L1656.8 770.6M1658.6 754.9L1660.0 741.5M1661.7 726.4L1663.2 713.0M1664.9 698.0L1666.5 684.6M1668.0 669.5L1669.3 656.0M1670.8 640.4L1672.0 627.7L1672.1 626.9M1673.2 612.1L1674.3 598.7M1675.5 583.1L1676.6 569.6M1678.1 554.7L1679.9 541.3M1681.8 527.6L1682.8 520.3L1684.8 514.5M1690.5 500.7L1693.5 494.9L1698.9 491.1L1698.9 491.5M1701.5 505.5L1704.0 518.7M1706.8 534.8L1709.0 548.1M1711.5 562.2L1713.8 575.5M1716.5 590.4L1718.8 603.7M1721.4 618.6L1723.7 631.9M1726.4 647.8L1728.5 661.1M1731.1 676.9L1731.1 677.4L1733.0 690.3M1735.3 706.0L1736.5 714.4L1737.1 719.3M1739.1 735.0L1740.7 748.4M1742.5 764.0L1743.9 777.5M1745.4 792.3L1746.7 805.8M1747.9 819.2L1749.0 832.6M1750.1 846.0L1751.1 859.5M1752.2 872.8L1752.6 878.4L1753.3 886.3M1754.5 901.1L1755.6 914.5M1756.8 929.3L1757.9 942.8M1759.6 957.6L1761.2 971.0M1762.8 984.8L1763.4 990.0L1765.3 998.1M1769.0 1012.5L1774.1 1021.7L1774.7 1018.7M1777.5 1004.2L1779.5 993.9L1779.8 991.0M1781.0 976.0L1782.2 962.6M1783.3 948.6L1784.5 935.1M1785.6 921.2L1786.6 907.7M1787.7 892.9L1788.7 879.5M1789.8 864.7L1790.2 859.3L1790.8 851.2M1791.9 836.4L1792.9 822.9M1794.0 809.0L1794.9 795.5M1795.9 781.5L1796.7 768.1M1797.6 753.3L1798.4 739.8M1799.3 724.0L1800.1 710.5M1801.1 693.8L1801.7 680.3M1802.5 664.5L1803.2 651.0M1804.0 635.4L1804.7 621.9M1805.5 607.2L1806.1 593.7M1807.4 578.9L1808.8 565.5M1810.4 550.9L1811.8 537.6L1811.8 537.5M1815.1 523.3L1817.1 515.0L1819.7 510.7M1828.0 513.7L1831.8 526.6M1834.8 540.5L1837.2 553.8M1839.6 568.8L1841.4 582.2M1843.4 597.9L1844.0 602.2L1845.5 611.2M1847.8 625.4L1849.4 635.4L1850.0 638.7M1853.0 653.1L1854.8 661.8L1856.2 666.2M1859.4 676.2L1860.1 678.4L1864.0 688.9M1867.9 698.6L1870.9 705.2L1874.0 710.6M1880.5 718.8L1881.6 720.1L1887.0 721.8" stroke="#404040" stroke-width="7.6" stroke-linecap="butt"/>
<path id="c-gray-caps" class="c" d="M297.9 709.1L301.4 713.1L304.4 718.9M309.9 731.2L312.1 736.6L313.8 742.4M318.1 758.0L321.2 769.5M325.5 785.3L328.2 795.4L328.6 796.7M332.8 812.6L333.6 815.5L336.6 823.9M342.0 837.8L344.4 843.5L348.4 847.6M357.1 838.4L360.5 829.5L360.9 827.1M363.5 812.3L365.5 800.5M367.9 784.4L369.6 772.6M371.8 756.6L373.1 744.7M375.1 727.5L376.4 715.6M378.0 698.4L379.0 686.5M380.5 669.4L381.6 657.6M382.9 640.9L383.9 629.1M385.3 612.3L386.3 600.4M387.7 583.6L388.9 571.7M390.4 555.5L391.6 543.7M393.3 527.5L394.9 515.7M397.0 499.4L398.1 490.4L398.8 487.6M402.2 473.5L403.5 467.8L406.4 462.5M411.3 466.6L414.2 477.3L414.3 478.1M416.0 492.2L417.4 504.0M419.3 520.3L419.6 523.0L420.5 532.2M422.0 549.0L423.0 560.8M424.5 577.3L425.0 582.5L425.5 589.2M426.9 606.0L427.9 617.9M429.2 634.7L430.2 646.6M431.5 663.4L432.4 675.3M433.6 691.5L434.6 703.4M435.8 719.3L436.8 731.1M438.1 746.7L439.1 758.6M440.4 774.1L441.1 782.9L441.4 786.0M443.0 801.9L444.1 813.7M445.7 829.7L446.5 837.8L446.9 841.5M448.7 857.7L449.9 869.5M451.8 886.4L451.9 887.2L453.3 898.2M455.7 917.0L457.2 928.8M462.3 948.6L462.6 949.9L468.0 958.0L468.3 957.2M474.7 938.6L477.0 926.9M479.9 909.1L481.3 897.3M483.4 881.0L484.1 874.8L484.7 869.2M486.3 852.4L487.5 840.5M489.2 823.1L489.5 820.3L490.3 811.3M491.7 793.8L492.7 782.0M494.1 765.1L494.9 756.2L495.1 753.3M496.3 737.1L497.2 725.2M498.5 707.1L499.4 695.2M500.6 677.8L501.3 665.9M502.4 648.4L503.1 636.6M503.9 622.3L504.7 610.4M505.6 595.4L505.6 594.4L506.2 583.6M507.1 568.7L507.8 556.8M508.7 540.6L509.4 528.7M510.3 512.5L511.0 500.7L511.0 500.6M512.6 484.2L513.8 472.3M515.4 455.8L516.4 445.7L516.7 443.9M519.8 425.2L521.8 413.8L521.9 413.5M527.6 400.4L530.2 412.0M533.3 430.2L534.6 442.0M536.5 458.6L537.8 470.4M539.0 486.7L539.9 498.5M541.1 515.3L541.9 527.2M543.1 543.4L543.2 545.3L543.9 555.2M544.9 571.7L545.7 583.6M546.7 600.4L547.5 612.3M548.5 628.5L548.6 630.3L549.5 640.3M551.0 657.3L552.1 669.2M553.6 685.4L554.0 690.4L554.9 697.3M557.0 713.5L558.5 725.4M560.8 740.8L562.9 752.5M566.3 768.1L569.9 779.5M575.0 772.4L575.5 771.5L578.2 760.9M580.7 751.1L580.9 750.4L583.2 739.4M586.2 725.4L586.2 725.2L589.1 713.9M593.5 701.1L597.0 695.3L599.9 699.5M605.1 711.4L607.8 719.7L608.3 722.9M611.0 737.1L613.1 748.2L613.2 748.8M616.5 765.2L618.5 775.3L618.8 776.9M622.2 793.8L623.9 802.2L624.6 805.5M628.1 822.8L629.2 828.7L630.4 834.5M633.9 851.3L634.6 855.0L636.3 862.9M639.7 879.3L640.0 880.9L642.1 891.0M645.4 907.1L647.9 918.7M651.3 933.7L655.1 945.0M662.4 938.6L665.5 927.2M668.1 912.9L669.7 901.1M671.7 885.4L672.2 881.4L673.2 873.6M675.1 856.4L676.5 844.6M678.3 827.1L679.5 815.3M681.1 797.9L682.2 786.0M683.7 769.2L684.6 757.3M686.0 740.8L686.9 729.0M688.2 712.5L688.4 710.4L689.1 700.6M690.4 684.7L691.3 672.8M692.6 656.9L693.5 645.0M694.8 629.1L695.8 617.2M697.1 601.3L698.0 589.4M699.3 573.5L700.4 561.6M701.9 545.7L703.0 533.9M704.4 518.0L704.5 517.2L705.8 506.1M707.8 489.1L709.2 477.3M711.4 460.0L713.0 448.2M715.2 432.1L715.2 431.6L717.8 420.5M722.3 404.7L726.0 397.3L729.2 399.1M741.7 419.5L742.1 420.5L744.6 431.1M748.3 448.2L750.3 460.0M753.2 477.5L755.0 489.2M757.4 505.2L758.2 510.8L759.0 517.0M761.1 533.0L762.6 544.8M764.4 560.6L765.7 572.5M767.5 589.7L768.8 601.5M770.4 618.8L771.4 630.6M773.0 647.8L774.0 659.7M775.4 676.1L776.3 687.9M777.5 703.5L778.4 715.4M779.7 731.8L779.8 732.5L780.5 743.6M781.8 760.9L782.6 772.7M783.9 790.0L784.7 801.9M785.9 819.1L786.8 830.9M787.9 847.4L788.8 859.2M790.0 876.2L790.5 883.4L790.8 888.1M791.7 900.0L792.6 911.9M793.5 923.8L794.4 935.7M795.6 952.6L795.9 955.7L796.6 964.4M798.0 981.2L798.9 993.1M800.3 1009.9L801.2 1021.3L801.3 1021.8M802.9 1038.6L804.1 1050.4M805.9 1068.5L806.6 1076.4L807.5 1080.3M811.0 1096.6L812.0 1101.4L815.3 1107.6M821.3 1100.5L822.8 1096.4L824.0 1089.0M826.5 1075.0L828.1 1065.6L828.4 1063.2M830.3 1048.0L831.7 1036.2M833.6 1020.6L834.6 1008.7M835.9 993.1L836.9 981.2M838.2 965.2L838.9 957.7L839.2 953.4M840.4 937.0L841.3 925.1M842.6 908.4L843.5 896.5M844.8 880.2L845.9 868.3M847.4 851.6L848.4 839.8M850.0 822.6L851.3 810.8M853.3 792.7L854.6 780.9M856.7 763.6L858.2 751.8M860.3 735.3L860.4 734.5L861.9 723.5M864.1 707.1L865.7 695.3M868.1 678.8L869.8 667.0M872.2 649.7L873.9 637.9M876.3 621.3L876.5 620.1L878.0 609.5M880.3 593.1L881.9 582.0L882.0 581.3M883.9 566.5L885.5 554.7M887.4 540.0L888.8 528.2M890.6 512.9L892.0 501.0M893.6 484.5L894.6 472.6M896.1 456.0L897.2 444.1M898.6 427.5L899.5 415.7M900.8 399.0L901.7 387.2M903.0 370.6L903.4 366.2L903.9 358.7M905.2 342.1L906.1 330.2M907.3 313.6L908.2 301.7M909.6 284.9L910.7 273.1M912.2 256.2L913.2 244.4M915.2 226.4L916.7 214.6M918.9 197.3L919.5 192.3L923.5 198.0M926.7 209.5L929.0 221.2M930.7 233.2L931.8 245.0M933.2 261.5L934.3 273.3M935.6 289.1L936.2 300.9M937.0 317.3L937.6 329.2M938.4 345.7L939.0 357.6M939.8 374.0L940.4 385.9M941.1 402.4L941.6 414.3M942.2 430.8L942.6 442.7M943.2 459.1L943.6 471.0M944.2 487.5L944.7 499.4M945.3 515.9L945.7 527.8M946.3 544.8L946.4 545.9L946.8 556.6M947.3 573.0L947.8 584.9M948.4 601.7L948.8 613.6M949.4 630.0L949.8 641.8M950.4 658.2L950.8 670.1M951.3 686.0L951.8 697.5L951.8 697.9M952.4 713.5L952.8 725.4M953.5 740.9L953.9 752.8M954.6 769.2L955.0 781.1M955.7 798.3L956.2 810.1M956.9 828.2L957.1 833.8L957.4 840.1M958.3 857.4L958.8 869.3M959.6 886.0L960.2 897.9M960.9 913.8L961.5 925.7M962.3 941.8L962.5 946.4L963.0 953.7M964.1 970.0L964.8 981.9M965.9 998.2L966.7 1010.1M967.8 1026.9L967.9 1027.9L968.9 1038.8M970.4 1055.7L971.5 1067.5M972.9 1083.0L973.2 1087.0L975.4 1094.5M980.6 1107.8L984.0 1111.8L986.4 1105.7M990.3 1093.6L992.4 1081.9M995.1 1067.0L996.9 1055.3M999.2 1039.6L1000.1 1033.4L1000.9 1027.8M1003.4 1010.9L1005.1 999.1M1007.4 982.6L1009.1 970.8M1011.3 954.8L1012.8 943.0M1015.0 926.5L1016.2 917.2L1016.6 914.7M1018.5 898.7L1020.0 886.9M1022.0 870.5L1023.4 858.7M1025.3 842.0L1026.7 830.2M1028.6 812.5L1029.8 800.7M1031.6 783.5L1032.4 776.1L1032.8 771.6M1034.4 754.4L1035.5 742.6M1037.0 726.2L1037.8 718.4L1038.1 714.3M1039.4 697.1L1040.4 685.2M1041.7 668.9L1042.6 657.0M1043.8 640.6L1044.6 628.7M1045.7 612.3L1046.4 600.4M1047.6 583.2L1048.3 571.4M1049.3 554.2L1049.9 542.3M1050.8 525.6L1051.5 513.8M1052.3 498.4L1053.0 486.5M1053.8 470.9L1053.9 469.3L1054.4 459.0M1055.3 442.8L1055.9 430.9M1056.8 414.1L1057.4 402.3M1058.3 384.9L1058.9 373.0M1060.0 355.9L1060.8 344.0M1062.0 326.6L1062.8 314.7M1063.9 298.7L1064.6 288.3L1064.9 286.8M1068.0 270.7L1070.0 260.2L1070.5 261.2M1077.4 285.6L1079.1 297.4M1081.1 313.8L1081.9 325.6M1083.0 342.1L1083.8 354.0M1084.9 370.2L1085.7 382.0M1086.6 398.2L1087.2 410.1M1088.0 426.3L1088.6 438.2M1089.4 455.0L1090.0 466.8M1090.8 483.5L1091.4 495.4M1092.3 512.3L1092.9 524.2M1093.7 540.6L1094.3 552.5M1095.1 568.9L1095.7 580.7M1096.5 597.1L1096.9 604.1L1097.2 609.0M1098.2 626.2L1098.9 638.1M1099.9 655.3L1100.6 667.2M1101.6 683.6L1102.2 695.0L1102.3 695.4M1103.3 711.0L1104.1 722.9M1105.2 739.3L1106.0 751.1M1107.1 768.4L1107.6 775.6L1108.0 780.2M1109.3 798.3L1110.1 810.1M1111.3 827.4L1112.2 839.2M1113.4 856.2L1114.3 868.1M1115.6 884.8L1116.4 896.6M1117.7 913.8L1118.4 922.6L1118.6 925.6M1119.9 942.6L1120.8 954.5M1122.2 971.3L1123.1 983.1M1124.4 999.9L1125.4 1011.8M1126.8 1028.2L1127.8 1040.0M1129.1 1056.0L1129.1 1056.1L1130.2 1067.9M1131.6 1082.7L1132.7 1094.5M1134.2 1110.3L1134.5 1113.5L1136.9 1121.8M1140.4 1130.4L1144.7 1119.3M1146.7 1107.6L1148.3 1095.8M1150.6 1079.6L1151.5 1067.7M1152.6 1051.3L1153.5 1039.4M1154.7 1022.2L1155.6 1010.3M1156.6 993.1L1157.1 981.2M1158.0 964.4L1158.6 952.5M1159.4 935.8L1160.0 923.9M1160.9 906.7L1161.4 896.2L1161.4 894.8M1162.2 877.8L1162.8 865.9M1163.5 849.7L1164.1 837.8M1164.8 821.7L1165.4 809.8M1166.1 793.6L1166.7 781.7M1167.5 765.5L1168.0 753.6M1168.8 737.5L1169.4 725.6M1170.1 709.4L1170.7 697.5M1171.5 681.3L1172.0 669.4M1172.8 653.2L1173.4 641.4M1174.3 625.2L1174.9 613.3M1175.7 596.5L1176.3 584.6M1177.2 567.2L1177.5 561.0L1177.9 555.3M1179.0 537.9L1179.8 526.1M1180.9 508.6L1181.7 496.8M1182.8 479.9L1182.9 478.4L1184.2 468.1M1186.1 453.1L1187.5 441.3M1191.5 425.9L1193.6 419.3L1197.0 415.7M1201.3 433.7L1202.7 445.5M1204.6 461.9L1206.0 473.7M1207.9 490.3L1209.3 502.1M1210.9 518.3L1211.9 530.1M1213.5 546.6L1214.5 558.4M1216.0 574.6L1217.1 586.5M1218.5 602.1L1219.6 613.9M1221.1 630.2L1222.3 642.0M1223.9 658.1L1225.2 669.9M1227.0 686.3L1228.3 698.1M1230.1 713.7L1231.2 723.2L1231.6 725.5M1233.7 741.9L1235.3 753.6M1237.5 770.1L1239.3 781.9M1241.7 798.5L1242.0 800.4L1243.7 810.2M1246.3 826.0L1247.4 832.5L1248.4 837.8M1251.5 854.3L1252.8 860.7L1253.9 866.0M1257.0 880.8L1258.1 886.3L1260.3 892.2M1266.6 905.0L1268.9 907.8L1271.3 900.0M1274.6 887.7L1276.3 875.9M1278.6 860.2L1279.6 852.7L1280.0 848.3M1281.2 831.9L1282.1 820.0M1283.4 802.8L1284.4 790.9M1285.5 774.6L1286.2 762.7M1287.2 745.5L1287.9 733.6M1289.0 715.5L1289.7 703.7M1290.8 685.6L1291.6 673.7M1292.7 657.0L1293.5 645.1M1294.6 629.0L1295.4 617.1M1296.3 602.2L1297.1 590.3M1298.1 574.2L1298.8 562.3M1299.8 546.0L1300.6 534.1M1301.6 517.0L1302.2 505.1M1303.2 488.4L1303.8 476.5M1304.7 459.7L1305.4 447.8M1306.3 431.0L1306.5 427.7L1307.4 419.1M1309.1 402.3L1310.4 390.5M1312.5 373.6L1315.7 362.1M1318.5 362.8L1320.9 374.4M1322.9 386.5L1324.0 398.4M1325.5 414.5L1326.6 426.4M1328.1 442.5L1329.2 454.4M1330.6 470.0L1331.6 481.8M1333.1 498.0L1333.4 501.2L1334.1 509.8M1335.3 526.0L1336.3 537.9M1337.5 554.1L1338.5 565.9M1339.7 582.7L1340.5 594.6M1341.7 611.1L1342.5 622.9M1343.7 639.9L1344.1 645.8L1344.7 651.8M1346.3 668.8L1347.4 680.7M1348.9 697.1L1349.5 703.7L1350.2 708.9M1352.5 725.3L1354.1 737.1M1356.7 752.7L1358.9 764.4M1362.1 780.1L1364.7 791.7M1368.3 806.4L1371.0 816.6L1371.4 817.9M1375.8 833.1L1376.4 834.9L1379.6 844.3M1384.8 860.0L1387.1 867.1L1388.1 871.4M1391.5 887.0L1392.5 891.6L1397.9 888.7L1398.5 887.8M1406.0 873.9L1408.6 867.7L1409.4 862.5M1411.9 846.0L1413.7 834.3M1416.1 816.9L1417.7 805.1M1419.8 788.7L1421.2 776.9M1423.0 760.4L1424.4 748.6M1425.9 732.1L1427.0 720.3M1428.6 703.1L1429.6 691.2M1431.0 674.0L1431.9 662.1M1433.1 646.4L1434.0 634.5M1435.1 619.3L1435.5 614.4L1436.1 607.5M1437.4 591.8L1438.4 580.0M1439.8 563.1L1440.8 551.3M1442.9 534.5L1444.4 522.7M1446.7 506.0L1449.7 494.4M1452.4 490.0L1455.3 501.6M1457.4 512.3L1458.7 524.2M1460.6 541.0L1461.9 552.9M1463.4 569.1L1464.4 580.9M1465.9 598.3L1467.0 610.2M1468.5 628.3L1469.4 640.1M1470.9 658.8L1471.8 670.7M1473.2 688.7L1474.0 700.6M1475.2 718.6L1476.0 730.5M1477.3 748.5L1478.1 760.4M1479.3 777.6L1480.1 789.5M1481.3 805.9L1482.1 817.8M1483.2 833.4L1483.9 842.6L1484.1 845.2M1485.8 860.8L1487.0 872.6M1488.5 886.6L1489.2 894.1L1489.9 898.4M1492.1 912.5L1494.0 924.3M1497.2 938.6L1500.0 949.4L1500.4 948.7M1506.3 937.5L1509.3 926.0M1512.0 913.7L1514.0 901.9M1516.6 885.9L1517.9 874.1M1519.6 858.0L1520.9 846.2M1522.5 829.8L1523.6 817.9M1525.1 801.5L1526.2 789.6M1527.8 772.4L1528.8 760.6M1530.3 744.2L1531.4 732.3M1532.9 716.1L1533.9 704.3M1535.3 688.4L1536.4 676.6M1537.8 659.9L1538.8 648.1M1540.3 630.9L1541.3 619.0M1542.7 601.8L1543.0 598.6L1543.8 589.9M1545.4 573.5L1546.5 561.7M1548.0 545.6L1548.4 541.8L1549.6 533.8M1551.8 519.1L1553.5 507.3M1557.6 492.5L1559.1 487.4L1563.0 482.0M1569.9 490.7L1573.3 502.1M1577.6 518.1L1580.5 529.7M1584.4 546.3L1586.0 553.1L1587.0 557.9M1590.3 574.6L1591.4 579.9L1592.4 586.3M1595.0 602.8L1596.8 614.3L1596.8 614.6M1598.4 630.3L1599.7 642.1M1601.4 658.5L1602.1 665.4L1602.5 670.3M1603.7 686.7L1604.5 698.6M1605.8 715.8L1606.7 727.7M1608.0 744.9L1609.1 756.8M1610.6 773.2L1611.7 785.1M1613.2 800.7L1614.6 812.5M1616.4 828.3L1617.8 840.1M1619.5 855.9L1620.9 867.7M1622.6 883.7L1623.6 892.8L1624.3 895.5M1628.0 911.3L1629.0 915.5L1632.9 922.0M1641.9 897.4L1644.1 885.7M1646.4 869.7L1647.9 857.9M1649.9 841.4L1650.5 836.3L1651.1 829.6M1652.8 812.3L1653.9 800.5M1655.5 783.2L1655.9 779.5L1656.8 771.4M1658.6 754.1L1659.9 742.3M1661.8 725.6L1663.1 713.8M1665.0 697.2L1666.4 685.4M1668.0 668.7L1669.2 656.8M1670.8 639.6L1672.0 627.7M1673.3 611.3L1674.2 599.4M1675.6 582.3L1676.5 570.4M1678.2 553.9L1679.8 542.1M1681.9 526.8L1682.8 520.3L1684.5 515.3M1690.8 500.0L1693.5 494.9L1698.5 491.3M1701.7 506.3L1703.9 518.0M1706.9 535.6L1708.9 547.3M1711.6 563.0L1713.7 574.7M1716.6 591.2L1718.7 602.9M1721.6 619.4L1723.6 631.2M1726.5 648.6L1728.4 660.3M1731.2 677.7L1732.9 689.5M1735.4 706.8L1736.5 714.4L1737.0 718.5M1739.2 735.8L1740.6 747.6M1742.6 764.8L1743.8 776.7M1745.5 793.1L1746.7 805.0M1748.0 819.9L1748.9 831.8M1750.1 846.8L1751.1 858.7M1752.2 873.6L1752.6 878.4L1753.2 885.5M1754.6 901.9L1755.5 913.7M1756.9 930.1L1757.8 942.0M1759.7 958.4L1761.1 970.2M1762.9 985.6L1763.4 990.0L1765.2 997.3M1769.4 1013.2L1774.1 1021.7L1774.5 1019.5M1777.7 1003.5L1779.5 993.9L1779.7 991.7M1781.1 975.2L1782.1 963.4M1783.4 947.8L1784.4 935.9M1785.6 920.4L1786.5 908.5M1787.8 892.1L1788.7 880.3M1789.9 863.9L1790.2 859.3L1790.8 852.0M1792.0 835.6L1792.9 823.7M1794.0 808.2L1794.9 796.3M1795.9 780.8L1796.6 768.9M1797.6 752.5L1798.3 740.6M1799.3 723.2L1800.0 711.3M1801.1 693.0L1801.7 681.1M1802.6 663.7L1803.2 651.8M1804.1 634.6L1804.7 622.7M1805.5 606.4L1806.1 594.5M1807.5 578.1L1808.8 566.3M1810.4 550.1L1811.7 538.3M1815.3 522.5L1817.1 515.0L1819.3 511.4M1828.2 514.4L1831.5 525.8M1835.0 541.3L1837.1 553.0M1839.7 569.6L1841.2 581.4M1843.5 598.7L1844.0 602.2L1845.3 610.4M1847.9 626.2L1849.4 635.4L1849.9 637.9M1853.1 653.9L1854.8 661.8L1855.9 665.4M1859.6 676.9L1860.1 678.4L1863.7 688.1M1868.3 699.3L1870.9 705.2L1873.6 709.9M1881.0 719.4L1881.6 720.1L1887.0 721.8" stroke="#404040" stroke-width="5.6" stroke-linecap="round"/>
</g>
<g id="xlabels" class="tick" text-anchor="middle">
<text x="297.3" y="1444.6">0</text>
<text x="512.3" y="1444.6">2</text>
<text x="727.3" y="1444.6">4</text>
<text x="942.3" y="1444.6">6</text>
<text x="1157.3" y="1444.6">8</text>
<text x="1372.3" y="1444.6">10</text>
<text x="1587.3" y="1444.6">12</text>
<text x="1802.3" y="1444.6">14</text>
</g>
<g id="ylabels" class="tick" text-anchor="end">
<text x="253.6" y="71.4">0.8</text>
<text x="253.6" y="234.4">0.6</text>
<text x="253.6" y="397.4">0.4</text>
<text x="253.6" y="560.4">0.2</text>
<text x="253.6" y="723.4">0.0</text>
<text x="253.6" y="886.4">-0.2</text>
<text x="253.6" y="1049.4">-0.4</text>
<text x="253.6" y="1212.4">-0.6</text>
<text x="253.6" y="1375.4">-0.8</text>
</g>
<text id="xtitle" class="ttl" transform="translate(1008.0,1566.6)" xml:space="preserve"><tspan x="0" y="0">k</tspan><tspan x="35.7" y="0"> (</tspan><tspan x="77.8" y="0">Å</tspan><tspan x="123.7" y="-28" style="font-size:46.5px">-1</tspan><tspan x="166.3" y="0">)</tspan></text>
<text id="ytitle" class="ttl" transform="translate(82,760.3) rotate(-90)"><tspan x="0" y="0">k</tspan><tspan x="30.6" y="-27.7" style="font-size:47px">2</tspan><tspan x="66" y="0" textLength="27.5" lengthAdjust="spacingAndGlyphs" style="font-family:'Liberation Serif',serif;font-style:italic;font-size:72px">χ</tspan><tspan x="96.5" y="0">(k)</tspan></text>
<text id="panel" x="377.3" y="261.2" style="font-size:160px">a</text>
</svg>
</body>
</html>
